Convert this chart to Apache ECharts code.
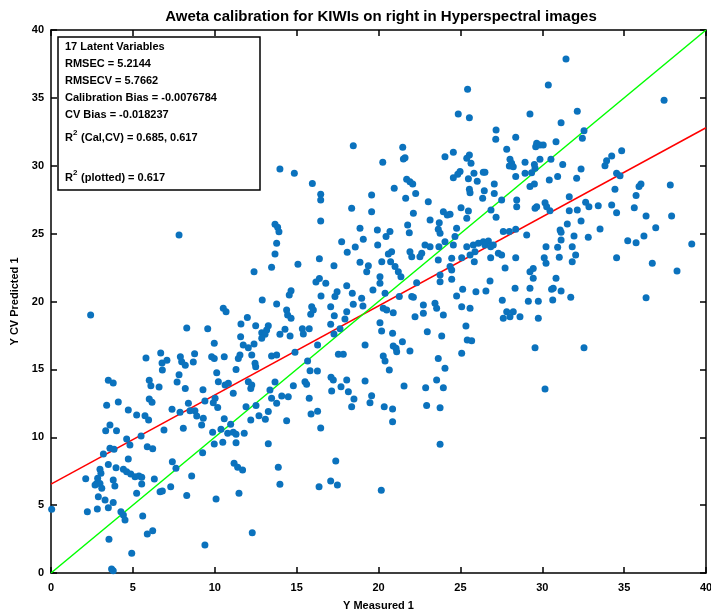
<!DOCTYPE html>
<html>
<head>
<meta charset="utf-8">
<script src="https://cdn.jsdelivr.net/npm/echarts@6/dist/echarts.min.js"></script>
<style>
  html, body { margin: 0; padding: 0; background: #fff; }
  #chart { width: 711px; height: 613px; }
</style>
</head>
<body>
<div id="chart"></div>
<script>
// [Y measured, Y CV predicted]
var cvPoints = [
  [7.82,24.9],[2.42,19.0],[8.29,18.05],[9.57,18.0],[5.8,15.84],[6.7,16.2],[6.78,15.47],[7.08,15.67],[6.8,14.95],[7.9,15.93],
  [7.98,15.57],[8.2,15.3],[8.77,16.16],[8.69,15.54],[7.82,14.6],[3.5,14.2],[3.8,14.0],[6.0,14.2],[6.1,13.8],[6.6,13.7],
  [7.7,14.07],[8.2,13.6],[9.28,13.5],
  [3.4,12.35],[4.11,12.6],[4.72,12.0],[5.23,11.64],[5.74,11.59],[5.96,11.27],[6.0,12.82],[6.17,12.57],[7.39,12.06],[7.88,11.84],
  [8.39,12.5],[8.49,11.96],[8.79,11.96],[8.9,11.57],[9.3,11.4],[9.2,10.9],[9.4,12.67],[3.6,10.9],[3.34,10.48],[4.0,10.48],
  [6.9,10.53],[8.08,10.66],[5.5,10.1],[4.62,9.87],[4.82,9.43],[3.2,8.77],[3.6,9.19],[3.85,9.11],[5.88,9.3],[6.21,9.16],
  [4.72,8.4],[3.5,8.0],[2.99,7.64],[3.05,7.34],[3.97,7.76],[4.42,7.64],[4.62,7.46],[4.87,7.29],[5.13,7.09],[5.37,7.15],
  [5.54,7.05],[2.12,6.95],[2.85,6.98],[2.79,6.6],[2.69,6.48],[2.99,6.6],[3.1,6.24],[3.8,6.85],[3.9,6.4],[5.54,6.56],
  [5.23,5.87],[6.31,6.92],[6.66,5.99],[6.8,6.04],[7.31,6.36],[7.63,7.71],[7.41,8.2],[8.59,7.15],[8.29,5.7],[9.26,8.86],
  [2.89,5.62],[3.3,5.38],[3.5,4.81],[3.8,5.2],[2.22,4.52],[2.83,4.71],[0.04,4.69],[4.27,4.52],[4.42,4.27],[4.52,3.9],
  [5.6,4.2],[5.88,2.87],[6.21,3.12],[3.54,2.48],[4.93,1.45],[9.4,2.06],[3.7,0.29],[3.8,0.17],
  [16.47,27.48],[18.36,26.87],[19.58,26.62],[16.47,25.93],[13.68,25.69],[13.84,25.47],[13.92,25.14],[18.87,25.4],[17.75,24.41],
  [19.07,24.58],[18.58,24.01],[18.09,23.62],[13.78,24.3],[13.68,23.5],[16.39,23.15],[18.87,22.89],[19.38,22.64],[19.28,22.2],
  [15.08,22.74],[17.28,22.64],[13.47,22.52],[12.4,22.2],[16.39,21.7],[16.18,21.44],[16.78,21.34],[18.06,21.16],[14.66,20.8],
  [14.55,20.48],[17.47,20.72],[17.34,20.36],[16.49,20.41],[18.4,20.6],[19.66,20.85],[18.97,20.24],[12.9,20.11],[13.78,19.82],
  [10.52,19.5],[10.69,19.25],[15.92,19.62],[16.02,19.37],[17.08,19.62],[18.46,19.79],[19.05,19.67],[14.39,19.37],[14.45,19.0],
  [14.66,18.76],[17.3,18.95],[18.06,19.25],[17.95,18.71],[11.99,18.83],[15.86,19.06],[11.6,18.34],[12.5,18.22],[13.27,18.22],
  [13.17,17.9],[12.87,17.7],[13.07,17.58],[14.29,17.95],[13.98,17.58],[15.35,18.0],[15.41,17.6],[15.77,18.0],[17.08,18.32],
  [17.65,18.0],[17.28,17.6],[14.6,17.46],[11.58,17.41],[12.87,17.29],[9.97,16.92],[11.74,16.8],[12.05,16.6],[12.4,16.87],
  [12.26,16.06],[16.28,16.8],[19.18,16.8],[9.81,15.93],[9.97,15.81],[10.58,15.93],[11.54,16.06],[11.44,15.81],[13.47,15.99],
  [13.78,16.06],[14.9,16.26],[17.55,16.11],[17.85,16.11],[12.46,15.45],[12.5,15.2],[11.3,15.0],[15.67,15.62],[15.82,14.9],
  [16.27,14.88],[10.12,14.76],[10.22,14.09],[10.63,13.85],[10.83,13.97],[12.05,14.09],[12.26,13.85],[12.2,13.6],[13.68,14.07],
  [14.8,13.8],[15.51,14.09],[15.61,13.9],[17.1,14.42],[17.24,14.22],[17.71,13.72],[18.06,14.22],[19.18,14.14],
  [11.13,13.24],[10.02,12.87],[9.91,12.55],[10.18,12.2],[13.37,13.48],[13.47,12.87],[13.78,12.5],[14.09,13.04],[14.49,12.99],
  [15.77,12.87],[15.88,11.71],[16.28,11.91],[17.14,13.41],[18.16,13.36],[18.5,12.82],[18.36,12.25],[19.58,13.06],[19.48,12.55],
  [11.91,12.25],[12.52,12.33],[13.27,11.89],[12.7,11.59],[13.09,11.32],[12.2,11.27],[14.39,11.22],[10.58,11.37],[10.97,10.95],
  [10.38,10.59],[9.87,10.36],[10.79,10.29],[11.13,10.36],[11.3,10.22],[11.8,10.29],[9.97,9.5],[10.49,9.63],[11.3,9.6],
  [13.27,9.53],[16.47,10.68],[11.18,8.08],[11.4,7.79],[11.7,7.59],[13.88,7.79],[17.39,8.25],[17.08,6.78],[17.49,6.48],
  [16.37,6.36],[13.98,6.53],[11.48,5.87],[10.08,5.45],[12.29,2.97],
  [27.18,32.63],[28.38,32.1],[27.16,31.95],[27.83,31.21],[29.66,31.65],[29.6,31.4],[21.48,31.36],[21.62,30.59],[21.52,30.5],
  [20.26,30.25],[24.57,30.99],[24.06,30.67],[25.55,30.79],[25.39,30.55],[25.65,30.18],[28.03,30.47],[28.13,30.18],[27.99,29.98],
  [28.23,29.93],[28.95,30.25],[29.52,30.1],[28.95,29.45],[29.35,29.49],[29.56,29.81],[28.38,29.2],[24.98,29.57],[24.84,29.37],
  [24.57,29.12],[25.83,29.45],[26.4,29.52],[26.5,29.52],[25.49,29.04],[26.03,28.86],[21.72,29.0],[21.92,28.82],[22.09,28.66],
  [20.96,28.35],[27.07,28.66],[25.55,28.26],[25.59,28.02],[26.46,28.16],[27.07,27.96],[29.25,28.47],[29.52,28.66],[22.27,27.96],
  [21.66,27.6],[26.36,27.6],[27.52,27.48],[28.44,27.48],[28.44,26.98],[23.04,27.35],[19.58,27.85],[22.13,26.5],[23.96,26.62],
  [24.37,26.42],[24.2,26.37],[25.04,26.91],[25.49,26.67],[25.39,26.13],[26.87,26.74],[27.18,26.2],[29.56,26.87],[29.66,26.98],
  [23.15,26.0],[23.71,25.81],[23.65,25.32],[23.76,25.02],[21.78,25.64],[21.88,25.07],[24.77,25.4],[19.93,25.27],[20.7,25.15],
  [20.46,24.78],[19.95,24.16],[24.67,24.78],[24.06,24.41],[27.62,25.15],[27.99,25.15],[28.38,25.32],[29.05,24.9],[22.84,24.16],
  [23.15,24.04],[23.69,24.04],[24.57,24.16],[25.39,24.04],[25.79,24.16],[26.1,24.29],[26.4,24.41],[26.71,24.46],[27.01,24.16],
  [26.5,24.16],[26.85,24.04],[20.8,23.67],[20.6,23.5],[20.2,22.93],[21.92,23.67],[22.03,23.3],[22.53,23.3],[22.64,23.55],
  [24.47,23.18],[25.08,23.23],[25.59,23.43],[25.89,23.67],[26.85,23.23],[27.32,23.55],[27.52,23.43],[28.38,23.23],[20.74,22.93],
  [21.01,22.57],[21.21,22.2],[21.37,21.83],[20.09,21.83],[20.09,21.34],[23.65,23.06],[24.37,22.57],[24.47,22.32],[25.85,22.93],
  [27.73,22.47],[23.76,21.95],[23.76,21.46],[24.47,21.64],[22.33,21.39],[26.81,21.51],[29.45,22.44],[29.25,22.2],[29.45,21.71],
  [20.4,20.6],[21.27,20.36],[22.03,20.36],[22.13,20.31],[24.77,20.41],[25.14,20.9],[25.95,20.72],[26.56,20.77],[28.34,20.97],
  [29.25,20.97],[27.56,20.09],[29.15,20.01],[29.76,20.01],[20.29,19.5],[20.5,19.37],[20.9,19.17],[22.74,19.74],[22.23,18.88],
  [22.74,19.13],[23.45,19.87],[23.55,19.5],[23.96,19.0],[25.08,19.62],[25.59,19.5],[27.83,19.25],[28.23,19.25],
  [28.03,18.88],[27.62,18.76],[28.64,18.88],[29.76,18.76],[20.09,18.44],[20.19,17.83],[20.86,17.66],[22.98,17.78],[23.86,17.46],
  [25.34,18.2],[25.42,17.16],[25.69,17.11],[21.46,17.04],[20.9,16.72],[21.07,16.55],[21.11,16.3],[21.92,16.35],[25.08,16.18],
  [29.56,16.6],[20.29,15.99],[20.4,15.62],[23.65,15.81],[24.06,15.08],[20.66,14.95],[21.56,13.78],[23.55,14.22],[22.88,13.65],
  [23.96,13.65],[20.35,12.25],[20.86,12.08],[22.94,12.33],[23.76,12.18],[20.86,11.15],[23.76,9.48],[20.17,6.09],
  [31.45,37.86],[30.37,35.95],[37.44,34.82],[32.14,34.01],[31.15,33.17],[32.55,32.58],[32.45,32.02],[30.84,31.77],[29.86,31.53],
  [30.06,31.53],[34.85,31.11],[34.24,30.72],[33.93,30.37],[33.83,30.0],[29.86,30.47],[30.53,30.47],[31.25,30.1],[32.37,29.76],
  [34.54,29.45],[34.75,29.27],[30.94,29.2],[30.43,28.95],[32.1,29.07],[36.03,28.66],[35.91,28.47],[37.82,28.58],[34.44,28.26],
  [35.73,27.8],[31.65,27.72],[30.17,27.28],[30.27,26.98],[30.47,26.69],[32.65,27.31],[32.85,26.98],[33.42,27.06],[34.24,27.11],
  [35.62,26.91],[31.65,26.69],[32.14,26.74],[34.54,26.54],[36.34,26.3],[37.9,26.3],[32.37,25.93],[31.53,25.71],[36.93,25.44],
  [31.09,25.27],[33.53,25.34],
  [31.15,25.1],[31.15,24.53],[31.94,24.82],[32.81,24.73],[36.21,24.82],[35.22,24.48],[35.73,24.33],[39.13,24.24],[30.23,24.04],
  [30.94,23.99],[31.83,24.04],[32.04,23.43],[30.12,23.23],[30.23,22.81],[31.04,23.26],[31.83,22.93],[34.54,23.23],[36.72,22.81],
  [38.23,22.25],[30.84,21.71],[30.57,20.9],[30.67,20.97],[31.15,20.77],[30.64,20.11],[31.74,20.31],[36.34,20.28],[32.55,16.6],
  [30.17,13.55],
  [18.46,31.48],[13.98,29.76],[14.86,29.45],[15.96,28.7],[16.47,27.9],
  [25.44,35.63],[24.87,33.81],[25.55,33.54],[29.25,33.81]
];

var fitLine = [[0, 6.55], [40, 32.8]];   // regression of predicted on measured
var unityLine = [[0, 0], [40, 40]];      // y = x

var chartTitle = 'Aweta calibration for KIWIs on right in Hyperspectral images';
var statLines = [
  '17 Latent Variables',
  'RMSEC = 5.2144',
  'RMSECV = 5.7662',
  'Calibration Bias = -0.0076784',
  'CV Bias = -0.018237'
];
var r2Lines = [' (Cal,CV) = 0.685, 0.617', ' (plotted) = 0.617'];

var chart = echarts.init(document.getElementById('chart'));
var font = '"Liberation Sans", Arial, sans-serif';
var txt = { fontFamily: font, fontWeight: 'bold', fontSize: 11, fill: '#000' };

function axisBase(pos, labels) {
  return {
    type: 'value', min: 0, max: 40, interval: 5, position: pos,
    axisLine: { show: true, onZero: false, lineStyle: { color: '#000', width: 1.5 } },
    axisTick: { show: true, inside: true, length: 6, lineStyle: { color: '#000', width: 1.5 } },
    axisLabel: { show: labels, color: '#000', fontFamily: font, fontWeight: 'bold', fontSize: 11 },
    splitLine: { show: false }
  };
}

var xBottom = axisBase('bottom', true);
xBottom.name = 'Y Measured 1';
xBottom.nameLocation = 'middle';
xBottom.nameGap = 27;
xBottom.nameTextStyle = { color: '#000', fontFamily: font, fontWeight: 'bold', fontSize: 11 };
xBottom.axisLabel.margin = 9;

var yLeft = axisBase('left', true);
yLeft.name = 'Y CV Predicted 1';
yLeft.nameLocation = 'middle';
yLeft.nameGap = 25;
yLeft.nameTextStyle = { color: '#000', fontFamily: font, fontWeight: 'bold', fontSize: 11 };
yLeft.axisLabel.margin = 7;

// title and stats box
var graphics = [
  { type: 'text', x: 381, y: 17, style: { text: chartTitle, fontFamily: font, fontWeight: 'bold', fontSize: 15, fill: '#000', align: 'center', verticalAlign: 'middle' } },
  { type: 'rect', shape: { x: 58, y: 37, width: 202, height: 153 }, style: { fill: '#fff', stroke: '#000', lineWidth: 1.5 }, z: 10 }
];
statLines.forEach(function (s, i) {
  graphics.push({ type: 'text', x: 65, y: 47 + i * 17, z: 11,
    style: Object.assign({ text: s, verticalAlign: 'middle' }, txt) });
});
[138, 178].forEach(function (yy, i) {
  graphics.push({ type: 'text', x: 65, y: yy, z: 11, style: Object.assign({ text: 'R', verticalAlign: 'middle' }, txt) });
  graphics.push({ type: 'text', x: 73, y: yy - 5, z: 11,
    style: { text: '2', fontFamily: font, fontWeight: 'bold', fontSize: 8, fill: '#000', verticalAlign: 'middle' } });
  graphics.push({ type: 'text', x: 78, y: yy, z: 11, style: Object.assign({ text: r2Lines[i], verticalAlign: 'middle' }, txt) });
});

var option = {
  animation: false,
  backgroundColor: '#fff',
  grid: { left: 51, right: 5, top: 30, bottom: 40, containLabel: false, outerBoundsMode: 'none' },
  xAxis: [xBottom, axisBase('top', false)],
  yAxis: [yLeft, axisBase('right', false)],
  series: [
    {
      type: 'line', data: fitLine, showSymbol: false, silent: true, z: 2,
      lineStyle: { color: '#ff0000', width: 1.5 }
    },
    {
      type: 'line', data: unityLine, showSymbol: false, silent: true, z: 2,
      lineStyle: { color: '#00ff00', width: 1.5 }
    },
    {
      type: 'scatter', data: cvPoints, symbolSize: 7, z: 3,
      itemStyle: { color: '#0b72bd', opacity: 1 }
    }
  ],
  graphic: graphics
};

chart.setOption(option);

window.addEventListener('resize', function () {
  chart.resize();
});
</script>
</body>
</html>
